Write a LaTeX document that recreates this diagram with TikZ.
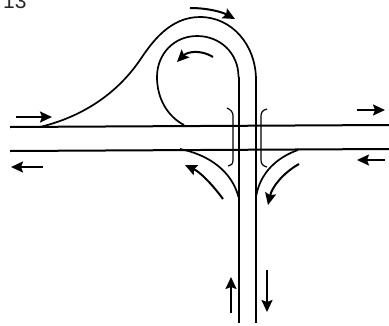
\documentclass[tikz,border=0pt]{standalone}
\usepackage{fontspec}
\setmainfont{Liberation Sans}
\usetikzlibrary{arrows.meta}

\tikzset{
    road/.style={line width=2pt, black},
    ramp/.style={line width=1.7pt, black},
    curb/.style={line width=1.2pt, black},
    flow/.style={line width=2pt, -{Stealth[length=12pt, width=11pt, inset=2pt]}},
}

\begin{document}
\begin{tikzpicture}[x=1pt, y=-1pt]
    \useasboundingbox (0,0) rectangle (389,325);

    % Number, cut by the top edge
    \begin{scope}
        \clip (0,0) rectangle (389,325);
        \node[font=\fontsize{21}{21}\selectfont, anchor=base west, inner sep=0pt, text=black!85] (number) at (3,8) {13};
    \end{scope}

    % Main road
    \draw[road] (10,127) -- (389,125);
    \draw[road] (10,151) -- (389,149);

    % Crossing road
    \draw[road] (238.5,77) -- (238.5,323);
    \draw[road] (256,80) -- (256,323);

    % Outer ramp, over the loop
    \draw[ramp] (40,127) .. controls (85,116) and (118,92) .. (140,60)
        .. controls (152,42) and (170,17) .. (200,17)
        .. controls (232,17) and (256,45) .. (256,80);

    % Inner loop
    \draw[ramp] (238.5,77) .. controls (238.5,53) and (220,36) .. (197,36)
        .. controls (174,36) and (157,54) .. (157,77)
        .. controls (157,98) and (167,116) .. (184,125);

    % Lower ramps
    \draw[ramp] (180,149) .. controls (210,155) and (232,172) .. (238.5,197);
    \draw[ramp] (298,150) .. controls (278,157) and (260,172) .. (256,197);

    % Curbs at the bridge
    \draw[curb] (227,108) .. controls (231,110) and (233,112) .. (233,116)
        -- (233,160) .. controls (233,164) and (231,166) .. (228,166);
    \draw[curb] (267,109) .. controls (263,110) and (261,112) .. (261,116)
        -- (261,160) .. controls (261,164) and (263,166) .. (267,167);

    % Traffic on the main road
    \draw[flow] (16,117) -- (52,117);
    \draw[flow] (43,167) -- (11,167);
    \draw[flow] (357,110) -- (385,110);
    \draw[flow] (385,160) -- (357,160);

    % Traffic on the crossing road
    \draw[flow] (231,313) -- (231,277);
    \draw[flow] (267,270) -- (267,312);

    % Traffic on the ramps
    \draw[flow] (190,8) .. controls (208,8) and (222,12) .. (235,19);
    \draw[flow] (213,57) .. controls (200,49) and (187,52) .. (177,62);
    \draw[flow] (223,199) .. controls (212,184) and (200,172) .. (185,165);
    \draw[flow] (299,164) .. controls (283,173) and (272,187) .. (268,205);
\end{tikzpicture}
\end{document}
